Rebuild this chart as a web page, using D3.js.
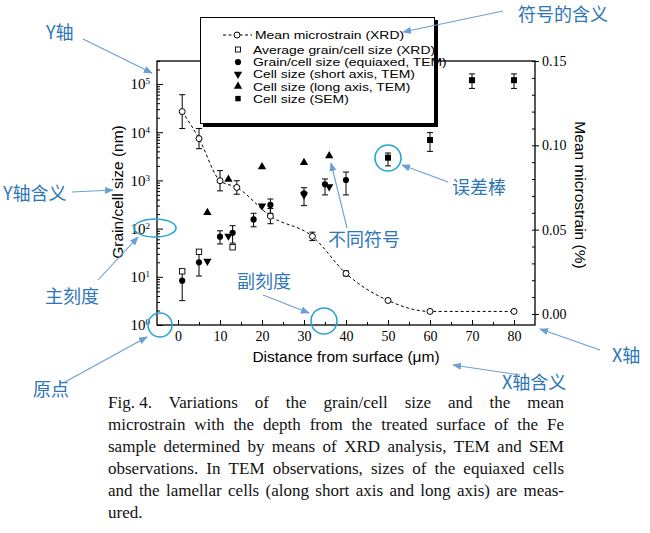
<!DOCTYPE html>
<html><head><meta charset="utf-8">
<script src="https://cdn.jsdelivr.net/npm/d3@7"></script>
<style>body{margin:0;background:#fff}svg{display:block}</style>
</head><body>
<svg id="c" width="650" height="533"></svg>
<script>
// ---------- data ----------
const strainX   = [1, 5, 10, 14, 22, 32, 40, 50, 60, 80];
const strainY   = [0.120, 0.104, 0.079, 0.075, 0.058, 0.046, 0.024, 0.008, 0.0015, 0.0015];
const strainErr = [0.010, 0.006, 0.006, 0.004, 0.0045, 0.0025, 0.0015, 0, 0, 0];

const xrdSizeX = [1, 5, 13];
const xrdSize  = [13, 33, 41];

const temEqX  = [1, 5, 10, 13, 18, 22, 30, 35, 40];
const temEq   = [8.3, 20, 68, 82, 155, 310, 540, 830, 1020];
const temEqLo = [3.2, 10.4, 48, 50, 109, 208, 299, 500, 500];
const temEqHi = [13.8, 35, 90, 115, 208, 411, 705, 1070, 1490];

const shortX = [7, 12, 20, 30, 36];
const shortV = [21, 70, 295, 500, 740];

const longX = [7, 12, 20, 30, 36];
const longV = [214, 1050, 1920, 2340, 3220];

const semX  = [50, 60, 70, 80];
const semV  = [2960, 6900, 120000, 120000];
const semLo = [2000, 4000, 81000, 81000];
const semHi = [3700, 9800, 162000, 162000];

const xTicks = [0, 10, 20, 30, 40, 50, 60, 70, 80];
const yLeftTicks = [1, 10, 100, 1000, 10000, 100000];
const yRightTicks = [0, 0.05, 0.10, 0.15];

const legendLabels = ["Mean microstrain (XRD)", "Average grain/cell size (XRD)", "Grain/cell size (equiaxed, TEM)",
  "Cell size (short axis, TEM)", "Cell size (long axis, TEM)", "Cell size (SEM)"];

const xLabel = "Distance from surface (\u03bcm)";
const yLeftLabel = "Grain/cell size (nm)";
const yRightLabel = "Mean microstrain (%)";

const captionLines = [
  "Fig.\u00a04.  Variations of the grain/cell size and the mean",
  "microstrain with the depth from the treated surface of the Fe",
  "sample determined by means of XRD analysis, TEM and SEM",
  "observations. In TEM observations, sizes of the equiaxed cells",
  "and the lamellar cells (along short axis and long axis) are meas-",
  "ured."
];

// annotation texts (Chinese callouts)
const noteTexts = ["Y轴", "Y轴含义", "主刻度", "原点", "副刻度", "不同符号", "误差棒", "符号的含义", "X轴", "X轴含义"];

// ---------- layout ----------
const svg = d3.select("#c");
const L = 157, R = 535, T = 61, B = 325;
const x = d3.scaleLinear().domain([-5, 85]).range([L, R]);
const yL = d3.scaleLog().domain([1, 3e5]).range([B, T]);
const yR = d3.scaleLinear().domain([-0.00655, 0.15]).range([B, T]);

const serif = "'Liberation Serif','Times New Roman',serif";
const sans = "'Liberation Sans',Arial,sans-serif";

// ---------- axes ----------
const gx = svg.append("g").attr("transform", `translate(0,${B})`)
  .call(d3.axisBottom(x).tickValues(xTicks).tickSizeInner(-5).tickSizeOuter(0).tickPadding(6).tickFormat(d3.format("d")));
gx.select(".domain").remove();
gx.selectAll("text").style("font-family", serif).style("font-size", "14px").attr("fill", "#000");
const gxm = svg.append("g").attr("transform", `translate(0,${B})`)
  .call(d3.axisBottom(x).tickValues(d3.range(5, 80, 10)).tickSizeInner(-3).tickSizeOuter(0).tickFormat(""));
gxm.select(".domain").remove();

const gl = svg.append("g").attr("transform", `translate(${L},0)`)
  .call(d3.axisLeft(yL).tickValues(yLeftTicks).tickSizeInner(-6).tickSizeOuter(0).tickPadding(7).tickFormat(() => "10"));
gl.select(".domain").remove();
gl.selectAll("text").style("font-family", serif).style("font-size", "15px").attr("fill", "#000");
gl.selectAll(".tick text").append("tspan").attr("dy", "-0.55em").style("font-size", "9px")
  .text(d => Math.round(Math.log10(d)));
const minorLog = [];
for (let e = 0; e <= 5; e++) for (let m = 2; m <= 9; m++) { const v = m * Math.pow(10, e); if (v <= 3e5) minorLog.push(v); }
const glm = svg.append("g").attr("transform", `translate(${L},0)`)
  .call(d3.axisLeft(yL).tickValues(minorLog).tickSizeInner(-3).tickSizeOuter(0).tickFormat(""));
glm.select(".domain").remove();

const gr = svg.append("g").attr("transform", `translate(${R},0)`)
  .call(d3.axisRight(yR).tickValues(yRightTicks).tickSizeInner(4).tickSizeOuter(0).tickPadding(3).tickFormat(d3.format(".2f")));
gr.select(".domain").remove();
gr.selectAll("text").style("font-family", serif).style("font-size", "14px").attr("fill", "#000");
const grm = svg.append("g").attr("transform", `translate(${R},0)`)
  .call(d3.axisRight(yR).tickValues(d3.range(0, 0.151, 0.01)).tickSizeInner(-3).tickSizeOuter(0).tickFormat(""));
grm.select(".domain").remove();

svg.append("rect").attr("x", L).attr("y", T).attr("width", R - L).attr("height", B - T)
  .attr("fill", "none").attr("stroke", "#000").attr("stroke-width", 1.3);

svg.append("text").attr("x", x(40)).attr("y", 362).attr("text-anchor", "middle")
  .style("font-family", sans).style("font-size", "15.5px").text(xLabel);
svg.append("text").attr("transform", "translate(123,192) rotate(-90)").attr("text-anchor", "middle")
  .style("font-family", sans).style("font-size", "15.5px").text(yLeftLabel);
svg.append("text").attr("transform", "translate(575,195) rotate(90)").attr("text-anchor", "middle")
  .style("font-family", sans).style("font-size", "15.5px").text(yRightLabel);

// ---------- marks ----------
function errBar(g, xv, ylo, yhi) {
  g.append("line").attr("x1", xv).attr("x2", xv).attr("y1", ylo).attr("y2", yhi).attr("stroke", "#000").attr("stroke-width", 1);
  [ylo, yhi].forEach(yy => g.append("line").attr("x1", xv - 3).attr("x2", xv + 3).attr("y1", yy).attr("y2", yy).attr("stroke", "#000").attr("stroke-width", 1));
}
const gm = svg.append("g");

const strainPts = strainX.map((d, i) => [x(d), yR(strainY[i])]);
gm.append("path").attr("d", d3.line().curve(d3.curveMonotoneX)(strainPts))
  .attr("fill", "none").attr("stroke", "#000").attr("stroke-width", 1).attr("stroke-dasharray", "3,2.5");
strainX.forEach((d, i) => { if (strainErr[i] > 0) errBar(gm, x(d), yR(strainY[i] - strainErr[i]), yR(strainY[i] + strainErr[i])); });

temEqX.forEach((d, i) => errBar(gm, x(d), yL(temEqLo[i]), yL(temEqHi[i])));
semX.forEach((d, i) => errBar(gm, x(d), yL(semLo[i]), yL(semHi[i])));

gm.selectAll(".sc").data(strainX).join("circle").attr("cx", d => x(d)).attr("cy", (d, i) => yR(strainY[i]))
  .attr("r", 3).attr("fill", "#fff").attr("stroke", "#000").attr("stroke-width", 1);
gm.selectAll(".xs").data(xrdSizeX).join("rect").attr("x", d => x(d) - 2.7).attr("y", (d, i) => yL(xrdSize[i]) - 2.7)
  .attr("width", 5.4).attr("height", 5.4).attr("fill", "#fff").attr("stroke", "#000").attr("stroke-width", 0.9);
gm.selectAll(".fc").data(temEqX).join("circle").attr("cx", d => x(d)).attr("cy", (d, i) => yL(temEq[i]))
  .attr("r", 3.1).attr("fill", "#000");
const tri = d3.symbol().type(d3.symbolTriangle).size(30);
gm.selectAll(".dt").data(shortX).join("path").attr("d", tri)
  .attr("transform", (d, i) => `translate(${x(d)},${yL(shortV[i])}) rotate(180)`).attr("fill", "#000");
gm.selectAll(".ut").data(longX).join("path").attr("d", tri)
  .attr("transform", (d, i) => `translate(${x(d)},${yL(longV[i])})`).attr("fill", "#000");
gm.selectAll(".ss").data(semX).join("rect").attr("x", d => x(d) - 3).attr("y", (d, i) => yL(semV[i]) - 3)
  .attr("width", 6).attr("height", 6).attr("fill", "#000");

// ---------- legend ----------
const lg = svg.append("g");
lg.append("rect").attr("x", 203).attr("y", 20).attr("width", 235).attr("height", 107).attr("fill", "#000");
lg.append("rect").attr("x", 200.5).attr("y", 17.5).attr("width", 234).attr("height", 106).attr("fill", "#fff").attr("stroke", "#000").attr("stroke-width", 1);
const legY = [35, 49.5, 62, 74.2, 86.4, 98.6];
const symX = 238, txtX = 253;
legendLabels.forEach((t, i) => {
  lg.append("text").attr("transform", `translate(${i === 0 ? 255 : txtX},${legY[i]}) scale(1.21,1)`).attr("dy", "0.36em")
    .style("font-family", sans).style("font-size", "11.5px").text(t);
});
lg.append("line").attr("x1", 223).attr("x2", 252).attr("y1", legY[0]).attr("y2", legY[0]).attr("stroke", "#000").attr("stroke-dasharray", "3,2.5");
lg.append("circle").attr("cx", symX - 1).attr("cy", legY[0]).attr("r", 3).attr("fill", "#fff").attr("stroke", "#000");
lg.append("rect").attr("x", symX - 2.5).attr("y", legY[1] - 2.5).attr("width", 5).attr("height", 5).attr("fill", "#fff").attr("stroke", "#000").attr("stroke-width", 0.9);
lg.append("circle").attr("cx", symX).attr("cy", legY[2]).attr("r", 3.1).attr("fill", "#000");
lg.append("path").attr("d", tri).attr("transform", `translate(${symX},${legY[3]}) rotate(180)`).attr("fill", "#000");
lg.append("path").attr("d", tri).attr("transform", `translate(${symX},${legY[4]})`).attr("fill", "#000");
lg.append("rect").attr("x", symX - 2.7).attr("y", legY[5] - 2.7).attr("width", 5.4).attr("height", 5.4).attr("fill", "#000");

// ---------- caption ----------
captionLines.forEach((line, i) => {
  const t = svg.append("text").attr("y", 408 + 22 * i).style("font-family", serif).style("font-size", "17px").attr("fill", "#111");
  const words = line.split(/ +/);
  const widths = words.map(w => { const s = t.append("tspan").text(w); const wd = s.node().getComputedTextLength(); s.remove(); return wd; });
  const total = d3.sum(widths);
  const last = i === captionLines.length - 1;
  const gap = (last || words.length < 2) ? 4.25 : (456 - total) / (words.length - 1);
  let xx = 108;
  words.forEach((w, j) => { t.append("tspan").attr("x", xx).text(w); xx += widths[j] + gap; });
});

// ---------- annotations ----------
const blueText = "#2d76b8", blueArrow = "#6c9fd5", blueCircle = "#27a6d6";
const defs = svg.append("defs");
defs.append("marker").attr("id", "ah").attr("viewBox", "0 0 10 10").attr("refX", 9).attr("refY", 5)
  .attr("markerWidth", 9).attr("markerHeight", 9).attr("orient", "auto-start-reverse").attr("markerUnits", "userSpaceOnUse")
  .append("path").attr("d", "M0,1 L10,5 L0,9 Z").attr("fill", blueArrow);

const notePos = [[46, 33], [3, 194], [45, 297], [33, 390], [237, 282], [328, 240], [452, 188], [518, 15], [612, 356], [502, 383]];
noteTexts.forEach((t, i) => {
  svg.append("text").attr("x", notePos[i][0]).attr("y", notePos[i][1]).attr("dy", "0.36em")
    .style("font-family", "'Noto Sans CJK SC',sans-serif").style("font-size", "18px").attr("fill", blueText).text(t);
});
const arrows = [[83, 39, 152, 73], [72, 192, 113, 190], [98, 280, 138, 237], [65, 382, 147, 337], [263, 295, 309, 313],
  [347, 228, 331, 163], [448, 182, 402, 165], [503, 11, 403, 32], [600, 350, 540, 329], [520, 375, 453, 365]];
arrows.forEach(a => svg.append("line").attr("x1", a[0]).attr("y1", a[1]).attr("x2", a[2]).attr("y2", a[3])
  .attr("stroke", blueArrow).attr("stroke-width", 1.1).attr("marker-end", "url(#ah)"));
svg.append("ellipse").attr("cx", 155).attr("cy", 228).attr("rx", 21).attr("ry", 9).attr("fill", "none").attr("stroke", blueCircle).attr("stroke-width", 1.6);
[[160, 325, 12], [324, 321, 13], [388, 158, 13]].forEach(c => svg.append("circle").attr("cx", c[0]).attr("cy", c[1]).attr("r", c[2])
  .attr("fill", "none").attr("stroke", blueCircle).attr("stroke-width", 1.6));
</script>
</body></html>
